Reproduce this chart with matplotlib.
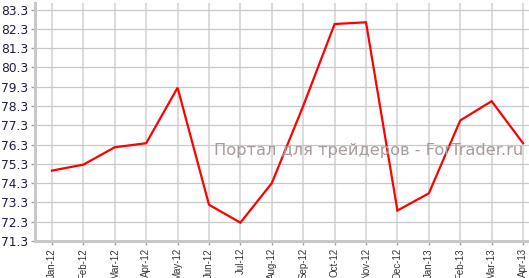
import matplotlib
matplotlib.use("Agg")
import matplotlib.pyplot as plt
import numpy as np

months = ["Jan-12", "Feb-12", "Mar-12", "Apr-12", "May-12", "Jun-12", "Jul-12", "Aug-12",
          "Sep-12", "Oct-12", "Nov-12", "Dec-12", "Jan-13", "Feb-13", "Mar-13", "Apr-13"]
values = [74.95, 75.26, 76.16, 76.37, 79.25, 73.18, 72.25, 74.3,
          78.3, 82.55, 82.64, 72.88, 73.77, 77.55, 78.55, 76.37]
yticks = [71.3, 72.3, 73.3, 74.3, 75.3, 76.3, 77.3, 78.3, 79.3, 80.3, 81.3, 82.3, 83.3]
watermark = "Портал для трейдеров - ForTrader.ru"

W, H = 529, 278
fig = plt.figure(figsize=(W / 100, H / 100), dpi=100)
ax = fig.add_axes([35 / W, (H - 241) / H, (W - 35) / W, (241 - 3) / H])

x = np.arange(len(months))
ax.plot(x, values, color="#ff0000", lw=1.6, zorder=3, solid_joinstyle="miter")

ax.set_xlim(-0.54, 15.19)
ax.set_ylim(71.3, 83.64)
ax.set_xticks(x)
ax.set_xticklabels(months, rotation=90, fontsize=7.0, color="#333333",
                   family="Liberation Sans")
ax.set_yticks(yticks)
ax.set_yticklabels([f"{v:.1f}" for v in yticks], fontsize=8.8, color="#1c1c3c",
                   family="DejaVu Sans")

ax.grid(axis="y", color="#c8c8c8", lw=0.9, zorder=0)
ax.grid(axis="x", color="#dcdcdc", lw=1.5, zorder=0)
ax.set_axisbelow(True)

for s in ["top", "right"]:
    ax.spines[s].set_visible(False)
for s in ["left", "bottom"]:
    ax.spines[s].set_color("#c8c8c8")
    ax.spines[s].set_linewidth(2.2)
ax.tick_params(axis="both", length=3, width=1, color="#a0a0a0", pad=2)

fig.text(523 / W, (H - 150) / H, watermark, ha="right", va="center",
         fontsize=11.7, color="#a89b9b", family="DejaVu Sans", zorder=5)

fig.savefig("out.png", dpi=100)
